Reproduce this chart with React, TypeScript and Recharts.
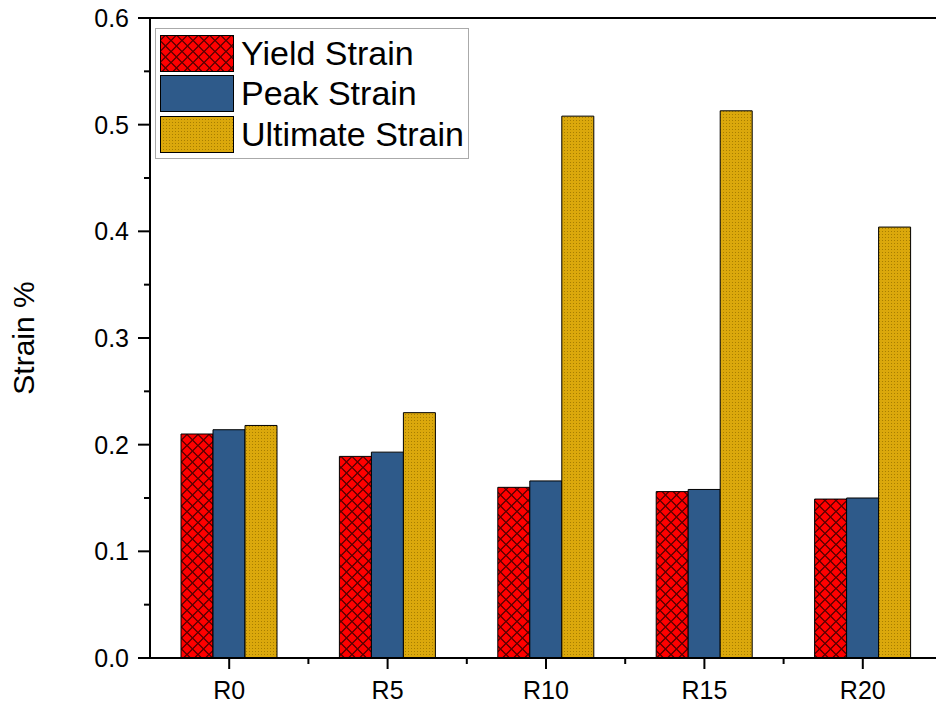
import { Bar, BarChart, XAxis, YAxis, Legend, ReferenceLine } from "recharts"

const categories = ['R0', 'R5', 'R10', 'R15', 'R20']
const yieldStrain = [0.210, 0.189, 0.160, 0.156, 0.149]
const peakStrain = [0.214, 0.193, 0.166, 0.158, 0.150]
const ultimateStrain = [0.218, 0.230, 0.508, 0.513, 0.404]
const yTicks = [0, 0.05, 0.1, 0.15, 0.2, 0.25, 0.3, 0.35, 0.4, 0.45, 0.5, 0.55, 0.6]

const CHART_W = 950
const CHART_H = 708
const Y_W = 150
const MARGIN = { top: 18, right: 8, bottom: 0, left: 0 }
const FONT = '"Liberation Sans", Arial, sans-serif'

const halfBand = (CHART_W - Y_W - MARGIN.right) / categories.length / 2

const data = categories.map((name, i) => ({
  name,
  yieldStrain: yieldStrain[i],
  peakStrain: peakStrain[i],
  ultimateStrain: ultimateStrain[i],
}))

const series = [
  { key: 'yieldStrain', name: 'Yield Strain', fill: 'url(#crosshatch)' },
  { key: 'peakStrain', name: 'Peak Strain', fill: '#2e5a8a' },
  { key: 'ultimateStrain', name: 'Ultimate Strain', fill: 'url(#golddots)' },
]

function YTick(props: any) {
  const { x, y, index, payload } = props
  const major = index % 2 === 0
  return (
    <g>
      <line x1={x - (major ? 12 : 6)} x2={x} y1={y} y2={y} stroke="#000" strokeWidth={2} />
      {major && (
        <text x={x - 21} y={y} dy={9} textAnchor="end" fontSize={25} fontFamily={FONT} fill="#000">
          {payload.value.toFixed(1)}
        </text>
      )}
    </g>
  )
}

function XTick(props: any) {
  const { x, y, payload } = props
  return (
    <g>
      <line x1={x} x2={x} y1={y} y2={y + 11} stroke="#000" strokeWidth={2} />
      <line x1={x + halfBand} x2={x + halfBand} y1={y} y2={y + 6} stroke="#000" strokeWidth={2} />
      <text x={x} y={y} dy={41} textAnchor="middle" fontSize={25} fontFamily={FONT} fill="#000">
        {payload.value}
      </text>
    </g>
  )
}

function LegendBox() {
  return (
    <div style={{ border: '1px solid #aaa', background: '#fff', padding: '4px 4px 3px 4px', fontFamily: FONT }}>
      {series.map((s) => (
        <div key={s.key} style={{ display: 'flex', alignItems: 'center', height: 40.5 }}>
          <svg width={74} height={37} style={{ display: 'block' }}>
            <rect x={0.5} y={0.5} width={73} height={36} fill={s.fill} stroke="#000" strokeWidth={1} />
          </svg>
          <span style={{ fontSize: 34, marginLeft: 7, color: '#000', lineHeight: '37px' }}>{s.name}</span>
        </div>
      ))}
    </div>
  )
}

export default function App() {
  return (
    <div style={{ position: 'absolute', left: 0, top: 0, width: 936, height: 708, overflow: 'hidden', background: '#fff' }}>
      <BarChart width={CHART_W} height={CHART_H} data={data} margin={MARGIN} barSize={32} barGap={0}>
        <defs>
          {/* diamond crosshatch: two crossing line sets */}
          <pattern id="crosshatch" patternUnits="userSpaceOnUse" width={11} height={11}>
            <rect width={11} height={11} fill="#ff0000" />
            <path d="M0,5.5 L5.5,0 M5.5,11 L11,5.5" stroke="#4a0000" strokeWidth={1.2} />
            <path d="M0,5.5 L5.5,11 M5.5,0 L11,5.5" stroke="#4a0000" strokeWidth={1.2} />
          </pattern>
          <pattern id="golddots" patternUnits="userSpaceOnUse" width={3} height={3}>
            <rect width={3} height={3} fill="#dba80c" />
            <rect width={1} height={1} fill="#a87e00" />
          </pattern>
        </defs>
        <XAxis
          dataKey="name"
          height={50}
          tickSize={0}
          tickMargin={0}
          tickLine={false}
          axisLine={{ stroke: '#000', strokeWidth: 2 }}
          tick={<XTick />}
          interval={0}
        />
        <YAxis
          width={Y_W}
          domain={[0, 0.6]}
          ticks={yTicks}
          interval={0}
          tickSize={0}
          tickMargin={0}
          tickLine={false}
          axisLine={{ stroke: '#000', strokeWidth: 2 }}
          tick={<YTick />}
          label={{
            content: (p: any) => {
              const vb = p.viewBox
              const cx = 24
              const cy = vb.y + vb.height / 2
              return (
                <text x={cx} y={cy} transform={`rotate(-90 ${cx} ${cy})`} textAnchor="middle" dy={10} fontSize={30} fontFamily={FONT} fill="#000">
                  Strain %
                </text>
              )
            },
          }}
        />
        <ReferenceLine y={0.6} stroke="#000" strokeWidth={2} />
        <Legend
          layout="vertical"
          align="center"
          verticalAlign="middle"
          content={() => <LegendBox />}
          wrapperStyle={{ left: 155, top: 28, width: 'auto', height: 'auto' }}
        />
        {series.map((s) => (
          <Bar key={s.key} dataKey={s.key} name={s.name} fill={s.fill} stroke="#000" strokeWidth={1} isAnimationActive={false} />
        ))}
      </BarChart>
    </div>
  )
}
